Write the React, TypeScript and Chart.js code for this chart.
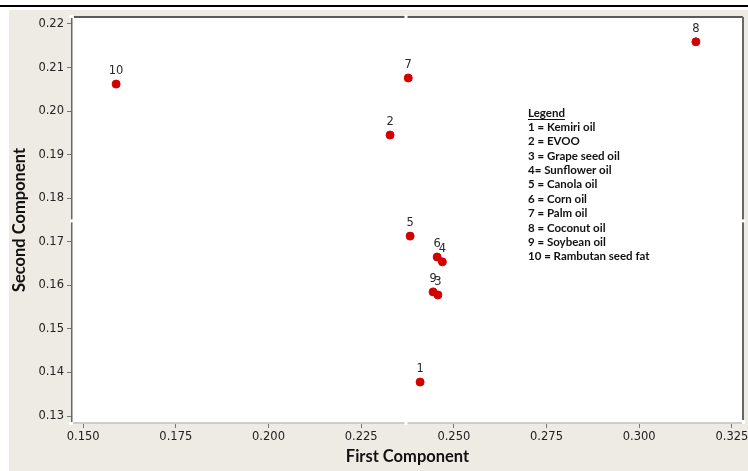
import React, { useEffect, useRef } from "react";
import { Chart, registerables } from "chart.js";

Chart.register(...registerables);

const pointLabels = ["1", "2", "3", "4", "5", "6", "7", "8", "9", "10"];
const firstComponent = [0.2409, 0.2328, 0.2457, 0.2469, 0.2382, 0.2455, 0.2377, 0.3153, 0.2444, 0.1589];
const secondComponent = [0.1378, 0.1945, 0.1578, 0.1654, 0.1713, 0.1665, 0.2076, 0.2159, 0.1585, 0.2062];
const xTicks = [0.15, 0.175, 0.2, 0.225, 0.25, 0.275, 0.3, 0.325];
const yTicks = [0.13, 0.14, 0.15, 0.16, 0.17, 0.18, 0.19, 0.2, 0.21, 0.22];
const refX = 0.2371;
const refY = 0.1748;
const legendTitle = "Legend";
const legendLines = [
  "1 = Kemiri oil",
  "2 = EVOO",
  "3 = Grape seed oil",
  "4= Sunflower oil",
  "5 = Canola oil",
  "6 = Corn oil",
  "7 = Palm oil",
  "8 = Coconut oil",
  "9 = Soybean oil",
  "10 = Rambutan seed fat",
];

const BEIGE = "#eeeae4";

const decorPlugin = {
  id: "decor",
  beforeDraw(chart: any) {
    const { ctx, width, height, chartArea } = chart;
    ctx.save();
    ctx.fillStyle = "#ffffff";
    ctx.fillRect(0, 0, width, height);
    ctx.fillStyle = "#000000";
    ctx.fillRect(0, 5, width, 2);
    ctx.fillStyle = BEIGE;
    ctx.fillRect(9, 10, width - 9, height - 10);
    ctx.fillStyle = "#ffffff";
    ctx.fillRect(chartArea.left, chartArea.top, chartArea.right - chartArea.left, chartArea.bottom - chartArea.top);
    ctx.restore();
  },
  afterDatasetsDraw(chart: any) {
    const { ctx, chartArea } = chart;
    const { left, right, top, bottom } = chartArea;
    const xs = chart.scales.x;
    const ys = chart.scales.y;
    ctx.save();
    // frame
    ctx.fillStyle = "#d0cdc8";
    ctx.fillRect(left, bottom - 1, right - left, 2);
    ctx.fillStyle = "#5a5a5a";
    ctx.fillRect(left + 2, top - 1, right - left - 2, 2);
    ctx.fillStyle = "#666666";
    ctx.fillRect(left - 1, top, 1.5, bottom - top);
    ctx.fillRect(right - 1, top, 2, bottom - top - 2);
    // reference-line gaps
    const gx = xs.getPixelForValue(refX);
    const gy = ys.getPixelForValue(refY);
    ctx.fillStyle = "#ffffff";
    ctx.fillRect(gx - 1.5, top - 2, 3, 4);
    ctx.fillRect(gx - 1.5, bottom - 2, 3, 4);
    ctx.fillRect(left - 2, gy - 1.5, 4, 3);
    ctx.fillRect(right - 2, gy - 1.5, 4, 3);
    ctx.fillRect(left - 3, top - 2, 4, 3);
    ctx.fillRect(left - 3, bottom - 1, 4, 3);
    ctx.fillRect(right - 1, bottom - 3, 3, 4);

    // point labels
    const meta = chart.getDatasetMeta(0);
    ctx.font = "11.5px 'DejaVu Sans'";
    ctx.fillStyle = "#2a2a2a";
    ctx.textAlign = "center";
    ctx.textBaseline = "alphabetic";
    meta.data.forEach((pt: any, i: number) => {
      ctx.fillText(pointLabels[i], pt.x, pt.y - 10);
    });

    // legend text block
    ctx.textAlign = "left";
    ctx.textBaseline = "middle";
    ctx.fillStyle = "#111111";
    ctx.font = "bold 11.5px Lato";
    const lx = 528;
    const ly = 113;
    const step = 14.35;
    ctx.fillText(legendTitle, lx, ly);
    const tw = ctx.measureText(legendTitle).width;
    ctx.fillRect(lx, ly + 6, tw, 1);
    legendLines.forEach((t, i) => {
      ctx.fillText(t, lx, ly + step * (i + 1));
    });

    // axis titles
    ctx.fillStyle = "#111111";
    ctx.font = "bold 16.5px Lato";
    ctx.textAlign = "center";
    ctx.textBaseline = "middle";
    ctx.fillText("First Component", (left + right) / 2, 457);
    ctx.translate(20, (top + bottom) / 2);
    ctx.rotate(-Math.PI / 2);
    ctx.fillText("Second Component", 0, 0);
    ctx.restore();
  },
};

export default function App() {
  const ref = useRef<HTMLCanvasElement | null>(null);
  useEffect(() => {
    if (!ref.current) return;
    const data = firstComponent.map((x, i) => ({ x, y: secondComponent[i] }));
    const tickFont = { family: "'DejaVu Sans'", size: 11.5 };
    const chart = new Chart(ref.current, {
      type: "scatter",
      data: {
        datasets: [
          {
            data,
            backgroundColor: "#d40000",
            borderColor: "#d40000",
            pointRadius: 4,
            pointHoverRadius: 4,
          },
        ],
      },
      options: {
        animation: false,
        responsive: false,
        devicePixelRatio: 1,
        layout: { padding: { left: 0, top: 17, right: 5, bottom: 0 } },
        plugins: { legend: { display: false }, tooltip: { enabled: false } },
        scales: {
          x: {
            type: "linear",
            min: 0.147,
            max: 0.328,
            afterBuildTicks: (s: any) => {
              s.ticks = xTicks.map((v) => ({ value: v }));
            },
            afterFit: (s: any) => {
              s.height = 48;
              s.paddingLeft = 0;
              s.paddingRight = 0;
            },
            ticks: {
              callback: (v: any) => Number(v).toFixed(3),
              font: tickFont,
              color: "#222222",
              padding: 2,
              maxRotation: 0,
              autoSkip: false,
            },
            grid: { drawOnChartArea: false, drawTicks: true, tickLength: 5, color: "#777777" },
            border: { display: false },
          },
          y: {
            type: "linear",
            min: 0.1284,
            max: 0.2216,
            afterBuildTicks: (s: any) => {
              s.ticks = yTicks.map((v) => ({ value: v }));
            },
            afterFit: (s: any) => {
              s.width = 72;
              s.paddingTop = 0;
              s.paddingBottom = 0;
            },
            ticks: {
              callback: (v: any) => Number(v).toFixed(2),
              font: tickFont,
              color: "#222222",
              padding: 3,
              autoSkip: false,
            },
            grid: { drawOnChartArea: false, drawTicks: true, tickLength: 5, color: "#777777" },
            border: { display: false },
          },
        },
      },
      plugins: [decorPlugin],
    });
    return () => chart.destroy();
  }, []);
  return (
    <div style={{ position: "absolute", left: 0, top: 0, width: 748, height: 471 }}>
      <canvas ref={ref} width={748} height={471} style={{ display: "block" }} />
    </div>
  );
}
